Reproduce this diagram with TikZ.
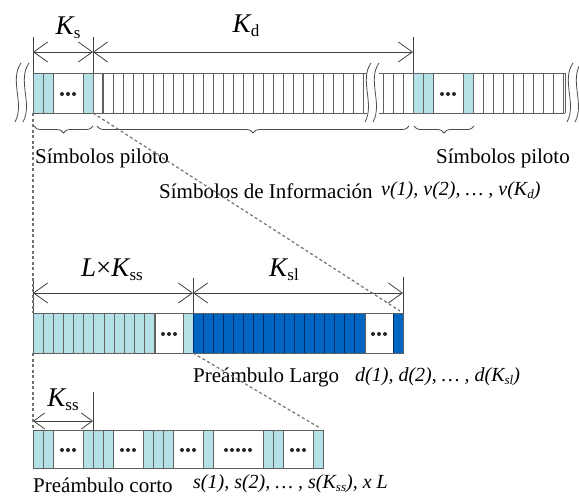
\documentclass[tikz,border=0pt]{standalone}
\usepackage{fontspec}
\setmainfont{Liberation Serif}
\usetikzlibrary{arrows.meta,decorations.pathreplacing}
\definecolor{pilot}{RGB}{180,225,230}
\definecolor{pream}{RGB}{0,102,194}
\definecolor{preamline}{RGB}{0,45,105}
\definecolor{cellline}{RGB}{95,95,95}
\definecolor{dashgray}{RGB}{115,115,115}
% italic K with an upright subscript
\newcommand\Kl[1]{\textit{K}\kern-1pt\raisebox{-0.35ex}{\fontsize{17}{17}\selectfont #1}}
\begin{document}
\begin{tikzpicture}[x=1pt,y=-1pt,
  cell/.style={draw=cellline,line width=0.9pt},
  lbcell/.style={draw=black!60,line width=0.9pt,fill=pilot},
  dbcell/.style={draw=preamline,line width=0.9pt,fill=pream},
  barb/.tip={Straight Barb[length=14pt,width=20pt,line width=0.8pt]},
  dimline/.style={draw=black!75,line width=0.8pt,barb-barb},
  tickline/.style={draw=black!75,line width=0.8pt},
  guide/.style={draw=dashgray,line width=1.2pt,dash pattern=on 3pt off 2.5pt},
  wave/.style={draw=black!70,line width=0.8pt},
  bracestyle/.style={draw=black!70,line width=0.8pt,decorate,decoration={brace,mirror,amplitude=7pt}},
  lbl/.style={inner sep=0pt,font=\fontsize{21}{24}\selectfont},
  ilbl/.style={inner sep=0pt,font=\fontsize{20}{24}\selectfont\itshape},
  dim/.style={inner sep=0pt,font=\fontsize{27}{30}\selectfont},
  dotmark/.style={fill=black!85},
]
\useasboundingbox (0,0) rectangle (579,499);

% ---------------- frame with pilots and data ----------------
\fill[white] (33,73) rectangle (565,113);
% pilot group at the start
\draw[lbcell] (33,73) rectangle (43,113);
\draw[lbcell] (43,73) rectangle (53,113);
\draw[cell] (53,73) rectangle (83,113);
\draw[lbcell] (83,73) rectangle (93,113);
\foreach \x in {62,68,74} \fill[dotmark] (\x,94) circle (2);
% data symbols
\foreach \x in {103,113,...,363} \draw[cell] (\x,73) -- (\x,113);
\draw[cell,line width=1.3pt] (103,73) -- (103,113);
\draw[cell] (33,73) -- (367,73) (33,113) -- (367,113);
\draw[cell] (379,73) -- (565,73) (379,113) -- (565,113);
\foreach \x in {383,393,403} \draw[cell] (\x,73) -- (\x,113);
% second pilot group
\draw[lbcell] (413,73) rectangle (423,113);
\draw[lbcell] (423,73) rectangle (433,113);
\draw[cell] (433,73) rectangle (463,113);
\draw[lbcell] (463,73) rectangle (473,113);
\foreach \x in {442,448,454} \fill[dotmark] (\x,94) circle (2);
\foreach \x in {483,493,...,563} \draw[cell] (\x,73) -- (\x,113);
\draw[cell] (565,73) -- (565,113);

% break marks
\foreach \x in {18,26,368,376,570,578}
  \draw[wave] (\x+3,63) .. controls (\x-9,80) and (\x+7,104) .. (\x-3,122);

% dimension lines above the frame
\coordinate (ksA) at (33,52);
\coordinate (ksB) at (93,52);
\coordinate (kdB) at (413,52);
\draw[tickline] (33,37) -- (33,73) (93,37) -- (93,73) (413,37) -- (413,73);
\draw[dimline] (ksA) -- (ksB);
\draw[dimline] (ksB) -- (kdB);
\node[dim] (ks) at (68,28) {\Kl{s}};
\node[dim] (kd) at (246,26) {\Kl{d}};

% braces and labels
\draw[bracestyle] (34,126) -- (93,126);
\draw[bracestyle] (97,126) -- (409,126);
\draw[bracestyle] (414,126) -- (474,126);
\node[lbl,anchor=west] (pil1) at (35,158) {Símbolos piloto};
\node[lbl,anchor=east] (pil2) at (570,158) {Símbolos piloto};
\node[lbl,anchor=west] (info) at (159,191) {Símbolos de Información};
\node[ilbl,anchor=west] (infos) at (381,191) {v(1), v(2), … , v(K\raisebox{-0.3ex}{\fontsize{13}{13}\selectfont d})};

% ---------------- preamble (short part + long part) ----------------
\foreach \i in {0,...,11}
  \draw[lbcell] ({33+10.15*\i},313) rectangle ({33+10.15*(\i+1)},353);
\draw[cell] (155,313) rectangle (183,353);
\foreach \x in {163,169,175} \fill[dotmark] (\x,334) circle (2);
\draw[lbcell] (183,313) rectangle (193,353);
\foreach \i in {0,...,16}
  \draw[dbcell] ({193+10.12*\i},313) rectangle ({193+10.12*(\i+1)},353);
\draw[cell] (365,313) rectangle (393,353);
\foreach \x in {373,379,385} \fill[dotmark] (\x,334) circle (2);
\draw[dbcell] (393,313) rectangle (403,353);
\draw[cell] (33,313) rectangle (403,353);

\coordinate (pA) at (33,293);
\coordinate (pB) at (193,293);
\coordinate (pC) at (403,293);
\draw[tickline] (33,278) -- (33,313) (193,278) -- (193,313) (403,277) -- (403,313);
\draw[dimline] (pA) -- (pB);
\draw[dimline] (pB) -- (pC);
\node[dim] (lk) at (112,270) {\textit{L}×\Kl{ss}};
\node[dim] (ksl) at (284,270) {\Kl{sl}};
\node[lbl,anchor=west] (plargo) at (193,377) {Preámbulo Largo};
\node[ilbl,anchor=west] (plargos) at (355,377) {d(1), d(2), … , d(K\raisebox{-0.3ex}{\fontsize{13}{13}\selectfont sl})};

% ---------------- short preamble ----------------
\foreach \s in {33,93,153,263} {
  \draw[lbcell] (\s,430) rectangle ({\s+10},468);
  \draw[lbcell] ({\s+10},430) rectangle ({\s+20},468);
  \draw[cell] ({\s+20},430) rectangle ({\s+50},468);
  \draw[lbcell] ({\s+50},430) rectangle ({\s+60},468);
  \foreach \d in {-6,0,6} \fill[dotmark] ({\s+35+\d},450) circle (2);
}
\draw[cell] (213,430) rectangle (263,468);
\foreach \x in {226,232,238,244,250} \fill[dotmark] (\x,450) circle (2);
\draw[cell] (33,430) rectangle (323,468);

\coordinate (sA) at (33,421);
\coordinate (sB) at (93,421);
\draw[tickline] (93,392) -- (93,430);
\draw[draw=black!75,line width=0.8pt,{Straight Barb[length=11pt,width=16pt]}-{Straight Barb[length=11pt,width=16pt]}] (sA) -- (sB);
\node[dim] (kss) at (63,400) {\Kl{ss}};
\node[lbl,anchor=west] (pcorto) at (33,485) {Preámbulo corto};
\node[ilbl,anchor=west] (pcortos) at (193,484) {s(1), s(2), … , s(K\raisebox{-0.3ex}{\fontsize{13}{13}\selectfont ss}), x L};

% ---------------- guide lines between the levels ----------------
\coordinate (g1) at (33,113);
\coordinate (g2) at (93,113);
\coordinate (g3) at (33,313);
\coordinate (g4) at (400,311);
\coordinate (g5) at (33,353);
\coordinate (g6) at (193,353);
\coordinate (g7) at (33,430);
\coordinate (g8) at (320,428);
\draw[guide] (g1) -- (g3);
\draw[guide] (g2) -- (g4);
\draw[guide] (g5) -- (g7);
\draw[guide] (g6) -- (g8);
\end{tikzpicture}
\end{document}
